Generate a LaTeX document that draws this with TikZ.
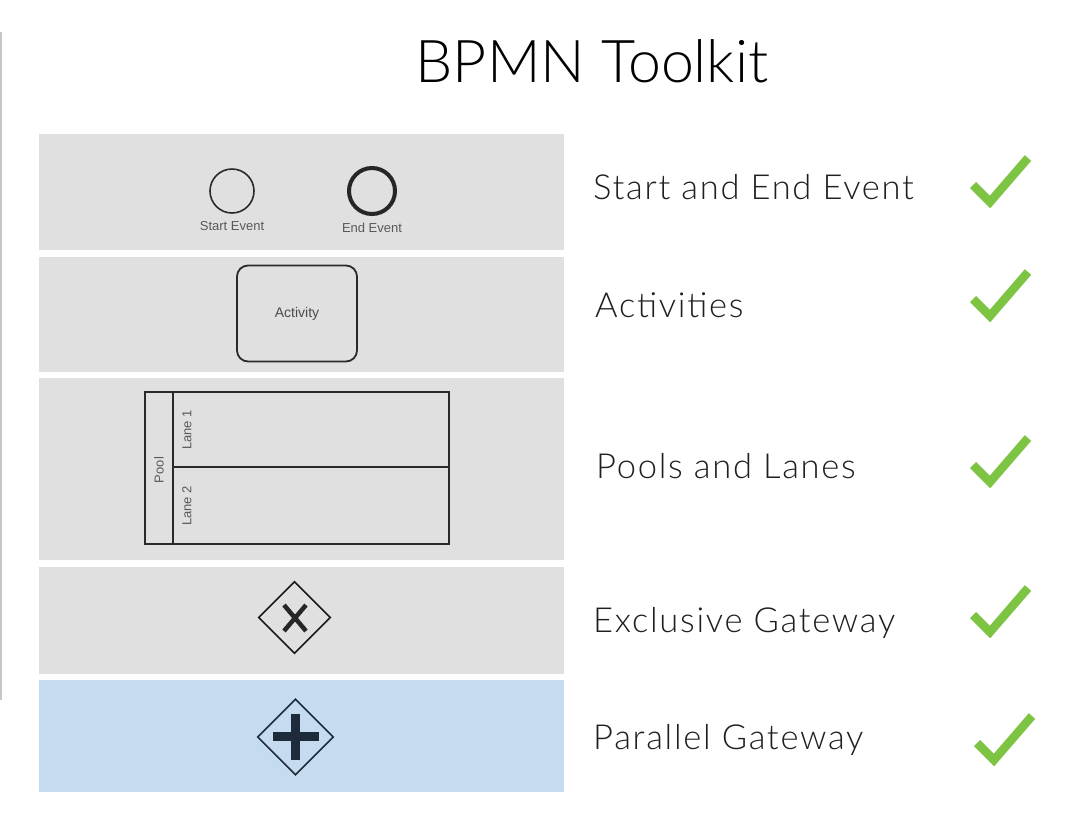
\documentclass[tikz,border=0pt]{standalone}
\usepackage{fontspec}
\setmainfont{Lato}[UprightFont=* Light]
\newfontfamily\rowfont{Lato}[UprightFont=* Light, LetterSpace=5]
\newfontfamily\arialf{Liberation Sans}
\usetikzlibrary{shapes.geometric}
\definecolor{panelgray}{HTML}{E0E0E1}
\definecolor{panelblue}{HTML}{C5DBEF}
\definecolor{checkgreen}{HTML}{7DC443}
\definecolor{inkdark}{HTML}{2A2A2A}
\definecolor{navy}{HTML}{1E2B3A}
\tikzset{
  panel/.style={fill=panelgray, draw=none},
  rowlabel/.style={anchor=base west, font=\rowfont\fontsize{34.5}{38}\selectfont, text=black!88, inner sep=0pt},
  smalllab/.style={font=\arialf\fontsize{13}{14}\selectfont, text=black!65, inner sep=0pt},
  checkm/.style={draw=checkgreen, line width=8.5pt, line cap=butt, line join=miter},
  shapeline/.style={draw=inkdark, line width=1.6pt},
}
\begin{document}
\begin{tikzpicture}[x=1pt,y=-1pt]
\useasboundingbox (0,0) rectangle (1092,833);
\fill[white] (0,0) rectangle (1092,833);
% left edge line
\draw[black!22, line width=1.5pt] (0.75,32) -- (0.75,700);
% title
\node[anchor=base, font=\fontsize{59}{63}\selectfont, inner sep=0pt] (title) at (592,82) {BPMN Toolkit};
% panels
\fill[panel] (39,134) rectangle (564,250);
\fill[panel] (39,257) rectangle (564,372);
\fill[panel] (39,378) rectangle (564,560);
\fill[panel] (39,567) rectangle (564,674);
\fill[fill=panelblue] (39,680) rectangle (564,792);
% row 1: events
\node[circle, draw=inkdark, line width=1.6pt, minimum size=44pt, inner sep=0pt] (start) at (232,191) {};
\node[circle, draw=black!85, line width=4pt, minimum size=46pt, inner sep=0pt] (end) at (372,191) {};
\node[smalllab] (startlab) at (232,226) {Start Event};
\node[smalllab] (endlab) at (372,228) {End Event};
% row 2: activity
\node[draw=inkdark, line width=1.8pt, rounded corners=11pt, minimum width=120pt, minimum height=96pt, inner sep=0pt, font=\arialf\fontsize{14}{15}\selectfont, text=black!70] (act) at (297,313.5) {Activity};
% row 3: pool
\draw[shapeline] (145,392) rectangle (449,544);
\draw[shapeline] (173,392) -- (173,544);
\draw[shapeline] (173,467) -- (449,467);
\node[smalllab, rotate=90] (pool) at (159,470) {Pool};
\node[smalllab, rotate=90] (lane1) at (187,430) {Lane 1};
\node[smalllab, rotate=90] (lane2) at (187,506) {Lane 2};
% row 4: exclusive gateway
\node[diamond, draw=black!90, line width=1.6pt, minimum size=72pt, inner sep=0pt] (xgw) at (294.5,617.5) {};
\draw[black!85, line width=4.5pt] (284,605) -- (306,631);
\draw[black!85, line width=4.5pt] (306,605) -- (284,631);
% row 5: parallel gateway
\node[diamond, draw=navy, line width=1.6pt, minimum size=76pt, inner sep=0pt] (pgw) at (295.5,737) {};
\draw[navy, line width=9pt] (273,736.5) -- (319,736.5);
\draw[navy, line width=9pt] (295.5,714) -- (295.5,760);
% labels
\node[rowlabel] (l1) at (593,199) {Start and End Event};
\node[rowlabel] (l2) at (595,317) {Activities};
\node[rowlabel] (l3) at (596,478) {Pools and Lanes};
\node[rowlabel] (l4) at (593,632) {Exclusive Gateway};
\node[rowlabel] (l5) at (593,749) {Parallel Gateway};
% checkmarks
\foreach \dx/\dy in {0/0, 0/114, 0/280, 0/430, 4/558}{
  \draw[checkm] (973+\dx,185+\dy) -- (990+\dx,202+\dy) -- (1028+\dx,158+\dy);
}
\end{tikzpicture}
\end{document}
